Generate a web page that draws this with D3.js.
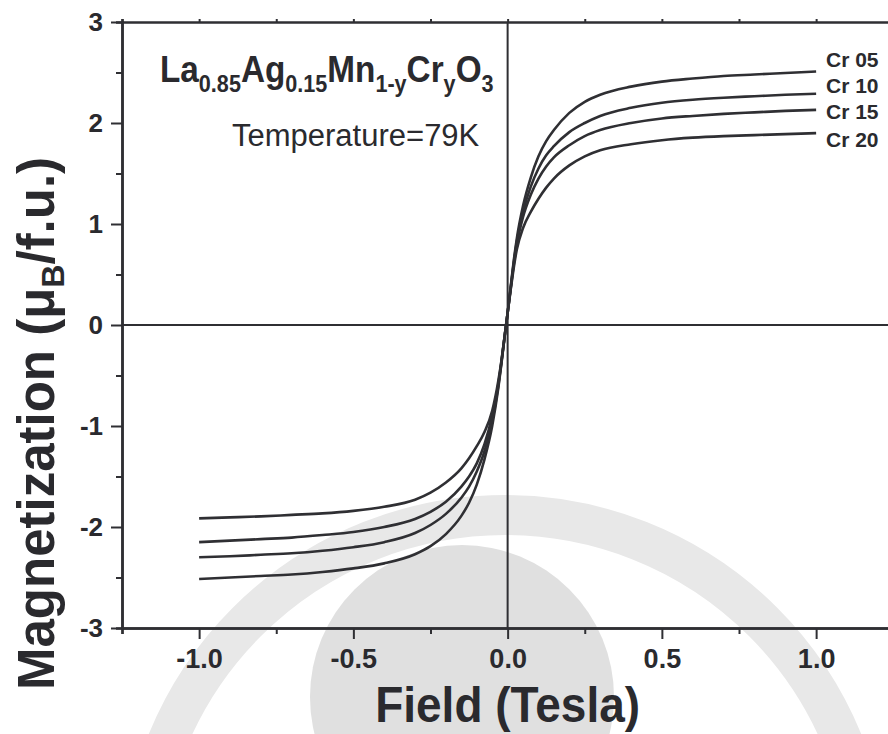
<!DOCTYPE html>
<html>
<head>
<meta charset="utf-8">
<script src="https://cdn.jsdelivr.net/npm/d3@7"></script>
<style>
  html, body { margin: 0; padding: 0; background: #fff; }
  svg { display: block; }
  text { font-family: "Liberation Sans", Arial, Helvetica, sans-serif; fill: #2a2a2e; }
</style>
</head>
<body>
<svg id="chart" width="888" height="734"></svg>
<script>
// Applied field (T) at which the magnetization is sampled
const fieldTesla = [-1.0, -0.9, -0.8, -0.7, -0.6, -0.5, -0.4, -0.3, -0.25, -0.2, -0.15, -0.125, -0.1, -0.075, -0.05, -0.03, -0.02, -0.01,
  0, 0.01, 0.02, 0.03, 0.05, 0.075, 0.1, 0.125, 0.15, 0.2, 0.25, 0.3, 0.4, 0.5, 0.6, 0.7, 0.8, 0.9, 1.0];

// Magnetization (μB per formula unit) for each Cr content
const magCr05 = [-2.515, -2.50, -2.485, -2.47, -2.445, -2.41, -2.36, -2.27, -2.19, -2.07, -1.89, -1.76, -1.58, -1.33, -1.00, -0.62, -0.38, -0.12,
  0.12, 0.38, 0.64, 0.86, 1.18, 1.46, 1.67, 1.82, 1.93, 2.10, 2.21, 2.28, 2.36, 2.41, 2.44, 2.465, 2.48, 2.495, 2.51];
const magCr10 = [-2.30, -2.29, -2.275, -2.26, -2.235, -2.20, -2.15, -2.06, -1.98, -1.87, -1.71, -1.60, -1.45, -1.25, -0.95, -0.60, -0.37, -0.12,
  0.12, 0.37, 0.62, 0.83, 1.12, 1.37, 1.55, 1.68, 1.77, 1.91, 2.00, 2.07, 2.15, 2.20, 2.23, 2.25, 2.265, 2.28, 2.29];
const magCr15 = [-2.15, -2.135, -2.12, -2.105, -2.08, -2.05, -2.00, -1.92, -1.85, -1.75, -1.60, -1.50, -1.37, -1.18, -0.90, -0.58, -0.36, -0.12,
  0.12, 0.36, 0.60, 0.80, 1.07, 1.29, 1.45, 1.57, 1.66, 1.78, 1.87, 1.93, 2.00, 2.045, 2.07, 2.09, 2.105, 2.12, 2.13];
const magCr20 = [-1.915, -1.905, -1.895, -1.88, -1.865, -1.84, -1.80, -1.73, -1.66, -1.56, -1.42, -1.32, -1.20, -1.06, -0.85, -0.55, -0.35, -0.12,
  0.12, 0.35, 0.57, 0.75, 0.96, 1.12, 1.25, 1.36, 1.45, 1.58, 1.67, 1.73, 1.79, 1.83, 1.855, 1.87, 1.88, 1.89, 1.90];

const seriesNames = ["Cr 05", "Cr 10", "Cr 15", "Cr 20"];
const seriesValues = [magCr05, magCr10, magCr15, magCr20];

const xTickValues = [-1.0, -0.5, 0.0, 0.5, 1.0];
const xMinorTicks = [-1.25, -0.75, -0.25, 0.25, 0.75, 1.25];
const yTickValues = [-3, -2, -1, 0, 1, 2, 3];
const yMinorTicks = [-2.5, -1.5, -0.5, 0.5, 1.5, 2.5];

const svg = d3.select("#chart");
const ink = "#2f2f33";

const x = d3.scaleLinear().domain([-1.25, 1.25]).range([122, 893.25]);
const y = d3.scaleLinear().domain([-3, 3]).range([628, 22]);

// plain hyphen-minus for negative tick labels
const fmtX = d => d3.format(".1f")(d).replace("−", "-");
const fmtY = d => d3.format("d")(d).replace("−", "-");

// faint emblem in the background
const emblem = svg.append("g").attr("class", "emblem");
emblem.append("circle")
  .attr("cx", 505).attr("cy", 880).attr("r", 365)
  .attr("fill", "none").attr("stroke", "#e8e8e8").attr("stroke-width", 40);
emblem.append("circle")
  .attr("cx", 462).attr("cy", 697).attr("r", 152)
  .attr("fill", "#e0e0e0");

// zero reference lines
svg.append("line")
  .attr("x1", x(-1.25)).attr("x2", 888).attr("y1", y(0)).attr("y2", y(0))
  .attr("stroke", ink).attr("stroke-width", 2);
svg.append("line")
  .attr("x1", x(0)).attr("x2", x(0)).attr("y1", y(3)).attr("y2", y(-3))
  .attr("stroke", ink).attr("stroke-width", 2);

// axes
function styleAxis(g) {
  g.select(".domain").attr("stroke", ink).attr("stroke-width", 2.5);
  g.selectAll(".tick line").attr("stroke", ink).attr("stroke-width", 2);
}

const bottomMajor = svg.append("g").attr("transform", `translate(0,${y(-3)})`)
  .call(d3.axisBottom(x).tickValues(xTickValues).tickSizeInner(11).tickSizeOuter(0).tickPadding(10)
    .tickFormat(fmtX));
styleAxis(bottomMajor);
bottomMajor.selectAll(".tick text").attr("font-size", 27).attr("font-weight", "bold").attr("fill", "#2a2a2e");

const bottomMinor = svg.append("g").attr("transform", `translate(0,${y(-3)})`)
  .call(d3.axisBottom(x).tickValues(xMinorTicks).tickSize(6).tickFormat(""));
styleAxis(bottomMinor);

const topAxis = svg.append("g").attr("transform", `translate(0,${y(3)})`)
  .call(d3.axisTop(x).tickValues(xTickValues.concat(xMinorTicks)).tickSize(3).tickFormat(""));
styleAxis(topAxis);

const leftMajor = svg.append("g").attr("transform", `translate(${x(-1.25)},0)`)
  .call(d3.axisLeft(y).tickValues(yTickValues).tickSizeInner(11).tickSizeOuter(0).tickPadding(8)
    .tickFormat(fmtY));
styleAxis(leftMajor);
leftMajor.selectAll(".tick text").attr("font-size", 26).attr("font-weight", "bold").attr("fill", "#2a2a2e");

const leftMinor = svg.append("g").attr("transform", `translate(${x(-1.25)},0)`)
  .call(d3.axisLeft(y).tickValues(yMinorTicks).tickSize(6).tickFormat(""));
styleAxis(leftMinor);

// magnetization curves
const line = d3.line()
  .x((d, i) => x(fieldTesla[i]))
  .y(d => y(d))
  .curve(d3.curveMonotoneX);

svg.append("g").selectAll("path")
  .data(seriesValues)
  .join("path")
  .attr("d", line)
  .attr("fill", "none")
  .attr("stroke", ink)
  .attr("stroke-width", 2.6);

// series labels at the high-field end
const labelY = [60, 86, 112, 140];
svg.append("g").selectAll("text")
  .data(seriesNames)
  .join("text")
  .attr("x", 826)
  .attr("y", (d, i) => labelY[i])
  .attr("dy", "0.35em")
  .attr("font-size", 21)
  .attr("font-weight", "bold")
  .text(d => d);

// composition and temperature annotations
const formula = svg.append("text")
  .attr("transform", "translate(160,82) scale(0.9,1)")
  .attr("font-size", 37).attr("font-weight", "bold");
const formulaParts = [["La", false], ["0.85", true], ["Ag", false], ["0.15", true], ["Mn", false], ["1-y", true],
  ["Cr", false], ["y", true], ["O", false], ["3", true]];
formulaParts.forEach(([t, sub], i) => {
  const prevSub = i > 0 && formulaParts[i - 1][1];
  formula.append("tspan")
    .attr("font-size", sub ? 24 : 37)
    .attr("dy", sub ? 10 : (prevSub ? -10 : 0))
    .text(t);
});

svg.append("text")
  .attr("x", 232).attr("y", 146)
  .attr("font-size", 31)
  .text("Temperature=79K");

// axis titles
svg.append("text")
  .attr("transform", `translate(${x(0)},722) scale(0.92,1)`)
  .attr("text-anchor", "middle")
  .attr("font-size", 50).attr("font-weight", "bold")
  .text("Field (Tesla)");

const yTitle = svg.append("text")
  .attr("transform", "translate(54,690) rotate(-90)")
  .attr("text-anchor", "start")
  .attr("font-size", 51).attr("font-weight", "bold");
yTitle.append("tspan").text("Magnetization (μ");
yTitle.append("tspan").attr("font-size", 32).attr("dy", 10).text("B");
yTitle.append("tspan").attr("dy", -10).text("/f.u.)");
</script>
</body>
</html>
